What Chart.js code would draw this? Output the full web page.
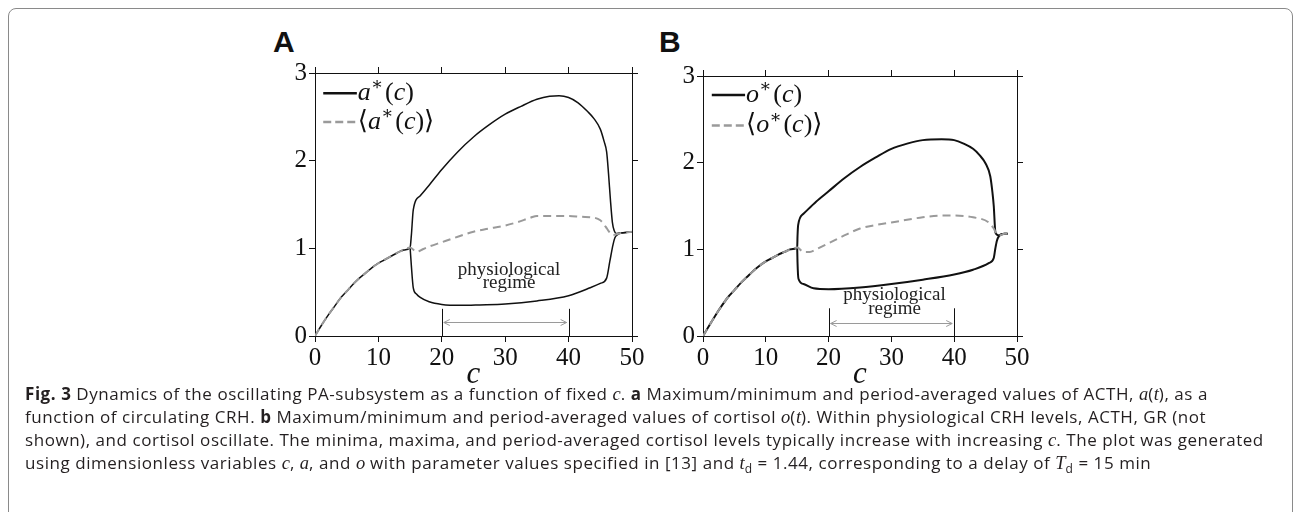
<!DOCTYPE html>
<html>
<head>
<meta charset="utf-8">
<script src="https://cdn.jsdelivr.net/npm/chart.js@4.4.0/dist/chart.umd.min.js"></script>
<style>
  body { margin: 0; background: #fff; width: 1294px; height: 512px; overflow: hidden; position: relative; }
  .frame { position: absolute; left: 8px; top: 8px; width: 1283px; height: 530px; border: 1px solid #8a8a8a; border-radius: 8px; }
  .letter { position: absolute; top: 27px; font-family: 'Liberation Sans', Arial, sans-serif; font-weight: bold; font-size: 30px; line-height: 1; color: #111; }
  canvas { position: absolute; }
  .caption { position: absolute; left: 25px; top: 382px; font-family: 'Open Sans', sans-serif; font-size: 17px; letter-spacing: 0.55px; line-height: 23px; color: #231f20; white-space: nowrap; }
  .caption div { height: 23px; }
  .caption i { font-family: 'Liberation Serif', serif; font-size: 18.5px; letter-spacing: 0; line-height: 1; }
  .caption sub { font-size: 12px; line-height: 0; }
</style>
</head>
<body>
<div class="frame"></div>
<div class="letter" style="left:273px">A</div>
<div class="letter" style="left:659px">B</div>
<canvas id="chartA" width="378" height="330" style="left:270px; top:56px"></canvas>
<canvas id="chartB" width="375" height="327" style="left:658px; top:59px"></canvas>
<div class="caption">
  <div><b>Fig. 3</b> Dynamics of the oscillating PA-subsystem as a function of fixed <i>c</i>. <b>a</b> Maximum/minimum and period-averaged values of ACTH, <i>a</i>(<i>t</i>), as a</div>
  <div>function of circulating CRH. <b>b</b> Maximum/minimum and period-averaged values of cortisol <i>o</i>(<i>t</i>). Within physiological CRH levels, ACTH, GR (not</div>
  <div>shown), and cortisol oscillate. The minima, maxima, and period-averaged cortisol levels typically increase with increasing <i>c</i>. The plot was generated</div>
  <div>using dimensionless variables <i>c</i>, <i>a</i>, and <i>o</i> with parameter values specified in [13] and <i>t</i><sub>d</sub> = 1.44, corresponding to a delay of <i>T</i><sub>d</sub> = 15 min</div>
</div>
<script>
// steady state below the bifurcation (c = 0..15)
const riseC = [0, 1, 2, 3, 4, 5, 6, 7, 8, 9, 10, 11, 12, 13, 14, 15];
const riseA = [0, 0.12, 0.23, 0.33, 0.43, 0.51, 0.59, 0.66, 0.72, 0.78, 0.83, 0.87, 0.91, 0.95, 0.98, 1.01];
const riseO = [0, 0.12, 0.24, 0.35, 0.45, 0.53, 0.61, 0.68, 0.75, 0.81, 0.86, 0.9, 0.94, 0.97, 1.0, 1.02];

// panel A: ACTH
const aMaxC = [15.2, 15.5, 16.6, 18, 20, 22.5, 25, 27.5, 30, 32.5, 35, 37, 38.5, 40, 41.5, 43, 44, 45, 45.6, 46, 46.3, 46.6, 46.9, 47.2, 47.5, 48, 49, 50];
const aMaxV = [1.15, 1.44, 1.6, 1.72, 1.9, 2.1, 2.27, 2.41, 2.53, 2.62, 2.7, 2.735, 2.74, 2.72, 2.66, 2.56, 2.48, 2.36, 2.22, 2.1, 1.85, 1.55, 1.3, 1.2, 1.17, 1.175, 1.18, 1.19];
const aMinC = [15.2, 15.5, 16, 16.6, 18, 20, 23, 26, 30, 35, 40, 43.4, 45, 46, 46.5, 47, 47.3, 47.6, 48, 49, 50];
const aMinV = [0.8, 0.55, 0.48, 0.44, 0.39, 0.36, 0.35, 0.355, 0.365, 0.4, 0.46, 0.55, 0.6, 0.66, 0.85, 1.04, 1.12, 1.15, 1.17, 1.18, 1.19];
const aAvgC = [16, 17, 18, 20, 22, 25, 27, 30, 32, 34, 35, 37, 40, 42, 44, 45, 45.5, 46, 46.5, 47, 47.5, 48, 49, 50];
const aAvgV = [0.96, 0.99, 1.02, 1.07, 1.12, 1.19, 1.22, 1.26, 1.3, 1.35, 1.37, 1.37, 1.37, 1.36, 1.35, 1.32, 1.28, 1.23, 1.18, 1.15, 1.16, 1.17, 1.18, 1.19];

// panel B: cortisol
const oMaxC = [15.05, 15.15, 16, 18, 20, 22.5, 25, 27.5, 30, 32.5, 35, 38, 40, 41.5, 43, 44, 45, 45.75, 46.1, 46.3, 46.55, 46.8, 47.1, 47.5, 48, 48.5];
const oMaxV = [1.15, 1.28, 1.41, 1.55, 1.67, 1.82, 1.95, 2.06, 2.16, 2.22, 2.26, 2.27, 2.26, 2.22, 2.16, 2.09, 1.99, 1.84, 1.65, 1.5, 1.2, 1.17, 1.16, 1.175, 1.18, 1.18];
const oMinC = [15.05, 15.2, 16, 17.6, 20, 25, 30, 35, 40, 43, 45.5, 46.3, 46.55, 46.8, 47.1, 47.5, 48, 48.5];
const oMinV = [0.85, 0.66, 0.6, 0.55, 0.54, 0.56, 0.6, 0.65, 0.71, 0.765, 0.84, 0.9, 1.01, 1.1, 1.15, 1.17, 1.18, 1.18];
const oAvgC = [16, 17, 18, 20, 22.5, 25, 27.5, 30, 35, 38, 40, 43, 45.5, 46.3, 46.8, 47.2, 47.6, 48, 48.5];
const oAvgV = [0.97, 0.97, 1.0, 1.07, 1.16, 1.24, 1.28, 1.31, 1.37, 1.39, 1.39, 1.37, 1.31, 1.24, 1.17, 1.16, 1.17, 1.18, 1.18];

const xTicks = [0, 10, 20, 30, 40, 50];
const yTicks = [0, 1, 2, 3];
const regimeC = [20, 40];

const INK = '#111';
const GREY = '#9a9a9a';
const tickFont = { family: "'Liberation Serif', serif", size: 25 };

const pts = (cs, vs) => cs.map((c, i) => ({ x: c, y: vs[i] }));

function mathText(ctx, x, y, parts, size) {
  parts.forEach(([t, s]) => {
    if (s === 's') {
      ctx.font = Math.round(size * 0.7) + "px 'DejaVu Serif', serif";
      ctx.fillText(t, x, y - size * 0.38);
    } else {
      ctx.font = (s === 'i' ? 'italic ' : '') + size + "px 'Liberation Serif', 'DejaVu Serif', serif";
      ctx.fillText(t, x, y);
    }
    x += ctx.measureText(t).width + (s === 's' ? 2 : 0);
  });
}

const decor = {
  id: 'decor',
  afterDatasetsDraw(chart, args, o) {
    const { ctx, chartArea } = chart;
    const X = v => chart.scales.x.getPixelForValue(v);
    const Y = v => chart.scales.y.getPixelForValue(v);
    ctx.save();
    // regime brackets
    ctx.strokeStyle = INK; ctx.lineWidth = 1;
    regimeC.forEach(c => {
      const px = Math.round(X(c)) + 0.5;
      ctx.beginPath(); ctx.moveTo(px, Y(0)); ctx.lineTo(px, Y(o.barTop)); ctx.stroke();
    });
    const ay = Math.round(Y(o.arrowV)) + 0.5, x1 = X(regimeC[0]) + 2, x2 = X(regimeC[1]) - 2;
    ctx.strokeStyle = GREY;
    ctx.beginPath(); ctx.moveTo(x1, ay); ctx.lineTo(x2, ay);
    ctx.moveTo(x1 + 6, ay - 3); ctx.lineTo(x1, ay); ctx.lineTo(x1 + 6, ay + 3);
    ctx.moveTo(x2 - 6, ay - 3); ctx.lineTo(x2, ay); ctx.lineTo(x2 - 6, ay + 3);
    ctx.stroke();
    ctx.fillStyle = '#222'; ctx.textAlign = 'center'; ctx.textBaseline = 'middle';
    ctx.font = "19px 'Liberation Serif', serif";
    ctx.fillText('physiological', X(o.textC), Y(o.text1));
    ctx.fillText('regime', X(o.textC), Y(o.text2));
    // legend
    const lx0 = X(o.legC[0]), lx1 = X(o.legC[1]);
    ctx.lineWidth = 2.5;
    ctx.strokeStyle = INK;
    ctx.beginPath(); ctx.moveTo(lx0, Y(o.legV[0])); ctx.lineTo(lx1, Y(o.legV[0])); ctx.stroke();
    ctx.strokeStyle = GREY; ctx.setLineDash([8, 4]);
    ctx.beginPath(); ctx.moveTo(lx0, Y(o.legV[1])); ctx.lineTo(lx1, Y(o.legV[1])); ctx.stroke();
    ctx.setLineDash([]);
    ctx.fillStyle = INK; ctx.textAlign = 'left'; ctx.textBaseline = 'alphabetic';
    const v = o.sym;
    mathText(ctx, lx1 + 1, Y(o.legV[0]) + 7, [[v, 'i'], ['∗', 's'], ['(', 'r'], ['c', 'i'], [')', 'r']], 26);
    mathText(ctx, lx1 + 1, Y(o.legV[1]) + 7, [['⟨', 'r'], [v, 'i'], ['∗', 's'], ['(', 'r'], ['c', 'i'], [')', 'r'], ['⟩', 'r']], 26);
    // axis title
    ctx.textAlign = 'center'; ctx.textBaseline = 'middle';
    ctx.font = "italic 31px 'Liberation Serif', serif";
    ctx.fillText('c', (chartArea.left + chartArea.right) / 2, chartArea.bottom + 39);
    ctx.restore();
  }
};

function axis(pos, min, max, ticks, showLabels, size) {
  const horiz = pos === 'top' || pos === 'bottom';
  return {
    type: 'linear', position: pos, min, max,
    afterBuildTicks: s => { s.ticks = ticks.map(v => ({ value: v })); },
    ticks: { display: showLabels, font: tickFont, color: INK, padding: horiz ? 1 : 2, maxRotation: 0 },
    grid: { drawOnChartArea: false, drawTicks: true, tickLength: 6, color: INK, lineWidth: 1 },
    border: { display: true, color: INK, width: 1 },
    afterFit: s => { if (horiz) s.height = size; else s.width = size; }
  };
}

function makePanel(id, maxC, maxV, minC, minV, avgC, avgV, rise, opts) {
  new Chart(document.getElementById(id), {
    type: 'line',
    data: {
      // first dataset is painted last, so the grey mean sits on top
      datasets: [
        { data: pts(riseC.concat(avgC), rise.concat(avgV)), borderColor: GREY, borderWidth: 2, borderDash: [8, 5] },
        { data: pts(riseC.concat(maxC), rise.concat(maxV)), borderColor: INK, borderWidth: opts.lw },
        { data: pts([15].concat(minC), [rise[rise.length - 1]].concat(minV)), borderColor: INK, borderWidth: opts.lw }
      ]
    },
    options: {
      responsive: false, animation: false, devicePixelRatio: 1,
      layout: { padding: 0 },
      elements: { point: { radius: 0 }, line: { cubicInterpolationMode: 'monotone', fill: false } },
      plugins: { legend: { display: false }, tooltip: { enabled: false }, decor: opts },
      scales: {
        x: axis('bottom', 0, 50, xTicks, true, 50),
        x2: axis('top', 0, 50, xTicks, false, 12),
        y: axis('left', 0, 3, yTicks, true, 45),
        y2: axis('right', 0, 3, yTicks, false, 16)
      }
    },
    plugins: [decor]
  });
}

makePanel('chartA', aMaxC, aMaxV, aMinC, aMinV, aAvgC, aAvgV, riseA, {
  lw: 1.5, sym: 'a', barTop: 0.31, arrowV: 0.16, textC: 30.6, text1: 0.75, text2: 0.6,
  legC: [1.3, 6.6], legV: [2.77, 2.44]
});
makePanel('chartB', oMaxC, oMaxV, oMinC, oMinV, oAvgC, oAvgV, riseO, {
  lw: 2, sym: 'o', barTop: 0.32, arrowV: 0.155, textC: 30.5, text1: 0.47, text2: 0.31,
  legC: [1.4, 6.7], legV: [2.78, 2.43]
});
</script>
</body>
</html>
